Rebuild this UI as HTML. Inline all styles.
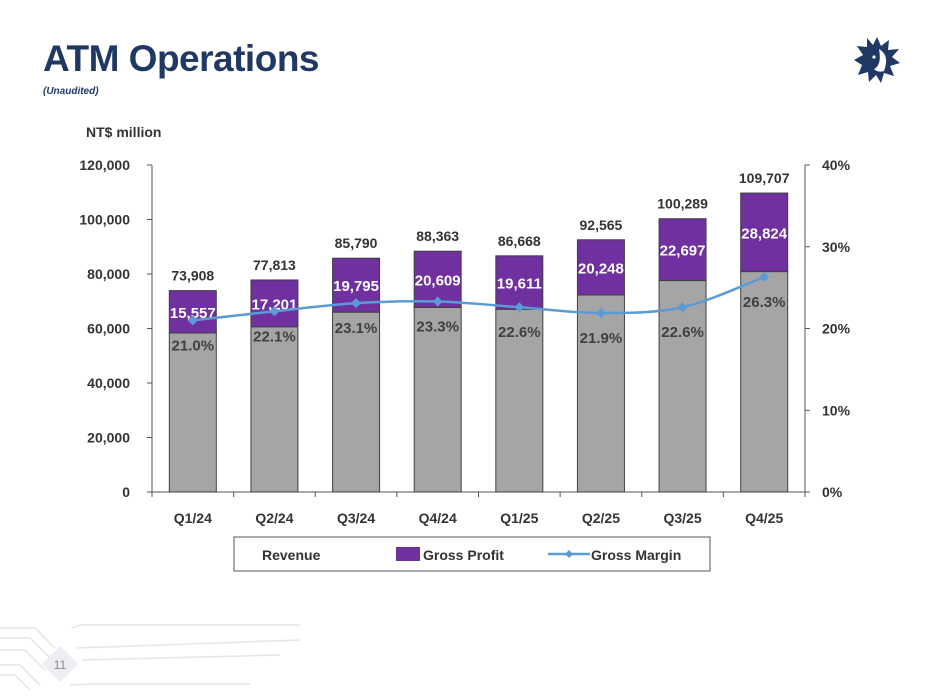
<!DOCTYPE html>
<html><head><meta charset="utf-8"><style>
body{margin:0;width:934px;height:700px;background:#fff;font-family:"Liberation Sans",sans-serif;overflow:hidden;position:relative}
</style></head><body>
<div style="position:absolute;left:43px;top:38px;font-size:37px;font-weight:bold;color:#1f3864;letter-spacing:-0.5px">ATM Operations</div>
<div style="position:absolute;left:43px;top:86px;font-size:10px;font-style:italic;font-weight:bold;color:#1f3864">(Unaudited)</div>
<svg style="position:absolute;left:852px;top:35px" width="50" height="50" viewBox="0 0 50 50">
<polygon fill="#1f3864" points="25,2 29,11 37,5 36,15 47,14 40,22 48,28 38,31 42,41 32,38 29,48 24,40 17,47 16,37 6,40 10,30 2,25 11,20 5,11 15,12 15,3 21,10"/>
<path d="M27,14 Q38,20 32,36 Q26,38 22,34 Q30,30 27,14Z" fill="#fff"/>
<circle cx="22" cy="22" r="1.6" fill="#fff"/>
</svg>
<svg width="934" height="700" style="position:absolute;left:0;top:0" id="chart">
<text x="86" y="137" font-size="14" font-weight="bold" fill="#333">NT$ million</text>
<g id="g"></g>
<g>
<rect x="234" y="537" width="476" height="34" fill="#fff" stroke="#555" stroke-width="1"/>
<text x="262" y="560" font-size="14" font-weight="bold" fill="#333">Revenue</text>
<rect x="396" y="547" width="24" height="14" fill="#7030a0"/>
<text x="423" y="560" font-size="14" font-weight="bold" fill="#333">Gross Profit</text>
<line x1="548" y1="554" x2="590" y2="554" stroke="#5b9bd5" stroke-width="2.5"/>
<polygon points="569,550 573,554 569,558 565,554" fill="#5b9bd5"/>
<text x="591" y="560" font-size="14" font-weight="bold" fill="#333">Gross Margin</text>
</g>
<g stroke="#e6e6e6" fill="none" stroke-width="1.5">
<path d="M0,628 L35,628 L55,648"/><path d="M0,638 L30,638 L50,658"/><path d="M0,650 L25,650 L45,670"/><path d="M0,665 L20,665 L40,685"/><path d="M0,675 L15,675 L30,690"/>
<path d="M72,628 L80,625 L300,625"/><path d="M77,648 L300,640"/><path d="M82,660 L280,655"/><path d="M70,685 L95,684 L250,684"/>
<polygon points="60,646 78,664 60,682 42,664" fill="#eceef2" stroke="none"/>
</g>
<text x="60" y="669" font-size="12" fill="#888" text-anchor="middle">11</text>
</svg>
<script>
const categories=["Q1/24","Q2/24","Q3/24","Q4/24","Q1/25","Q2/25","Q3/25","Q4/25"];
const revenue=[73908,77813,85790,88363,86668,92565,100289,109707];
const grossProfit=[15557,17201,19795,20609,19611,20248,22697,28824];
const grossMargin=[21.0,22.1,23.1,23.3,22.6,21.9,22.6,26.3];
const leftTicks=[0,20000,40000,60000,80000,100000,120000];
const rightTicks=[0,10,20,30,40];
const ns="http://www.w3.org/2000/svg",g=document.getElementById('g');
const X0=152,X1=805,Y0=492,Y1=165,step=(X1-X0)/categories.length,bw=47;
const y=v=>Y0-(v/120000)*(Y0-Y1), yp=v=>Y0-(v/40)*(Y0-Y1), xc=i=>X0+step*(i+0.5);
function el(t,a,txt){const e=document.createElementNS(ns,t);for(const k in a)e.setAttribute(k,a[k]);if(txt!=null)e.textContent=txt;g.appendChild(e);return e;}
const fmt=v=>v.toLocaleString('en-US');
let e=el('line',{x1:X0,y1:Y1,x2:X0,y2:Y0,stroke:'#555'});

e=el('line',{x1:X1,y1:Y1,x2:X1,y2:Y0,stroke:'#555'});

e=el('line',{x1:X0,y1:Y0,x2:X1,y2:Y0,stroke:'#555'});

leftTicks.forEach(t=>{el('line',{x1:X0-5,y1:y(t),x2:X0,y2:y(t),stroke:'#555'});
e=el('text',{x:X0-22,y:y(t)+5,'font-size':14,'font-weight':'bold',fill:'#333','text-anchor':'end'},fmt(t));
});
rightTicks.forEach(t=>{el('line',{x1:X1,y1:yp(t),x2:X1+5,y2:yp(t),stroke:'#555'});
e=el('text',{x:X1+17,y:yp(t)+5,'font-size':14,'font-weight':'bold',fill:'#333'},t+'%');
});
for(let i=0;i<=categories.length;i++)el('line',{x1:X0+step*i,y1:Y0,x2:X0+step*i,y2:Y0+5,stroke:'#555'});
categories.forEach((c,i)=>{const cx=xc(i),l=cx-bw/2;
e=el('rect',{x:l,y:y(revenue[i]-grossProfit[i]),width:bw,height:Y0-y(revenue[i]-grossProfit[i]),fill:'#a5a5a5',stroke:'#404040','stroke-width':1});

e=el('rect',{x:l,y:y(revenue[i]),width:bw,height:y(revenue[i]-grossProfit[i])-y(revenue[i]),fill:'#7030a0',stroke:'#404040','stroke-width':1});

e=el('text',{x:cx,y:y(revenue[i])-10,'font-size':14,'font-weight':'bold',fill:'#333','text-anchor':'middle'},fmt(revenue[i]));

e=el('text',{x:cx,y:yp(grossMargin[i])+30,'font-size':15,'font-weight':'bold',fill:'#404040','text-anchor':'middle'},grossMargin[i].toFixed(1)+'%');

e=el('text',{x:cx,y:y(revenue[i])+(y(revenue[i]-grossProfit[i])-y(revenue[i]))*0.5+6,'font-size':15,'font-weight':'bold',fill:'#fff','text-anchor':'middle'},fmt(grossProfit[i]));

e=el('text',{x:cx,y:Y0+31,'font-size':14,'font-weight':'bold',fill:'#333','text-anchor':'middle'},c);
});
const pts=grossMargin.map((m,i)=>[xc(i),yp(m)]);
let d='M'+pts[0].join(',');
for(let i=0;i<pts.length-1;i++){const p0=pts[Math.max(i-1,0)],p1=pts[i],p2=pts[i+1],p3=pts[Math.min(i+2,pts.length-1)];
d+=` C${p1[0]+(p2[0]-p0[0])/6},${p1[1]+(p2[1]-p0[1])/6} ${p2[0]-(p3[0]-p1[0])/6},${p2[1]-(p3[1]-p1[1])/6} ${p2[0]},${p2[1]}`;}
e=el('path',{d:d,fill:'none',stroke:'#5b9bd5','stroke-width':2.5});

pts.forEach(p=>{e=el('polygon',{points:`${p[0]},${p[1]-5} ${p[0]+5},${p[1]} ${p[0]},${p[1]+5} ${p[0]-5},${p[1]}`,fill:'#5b9bd5'});
});
</script>
</body></html>
